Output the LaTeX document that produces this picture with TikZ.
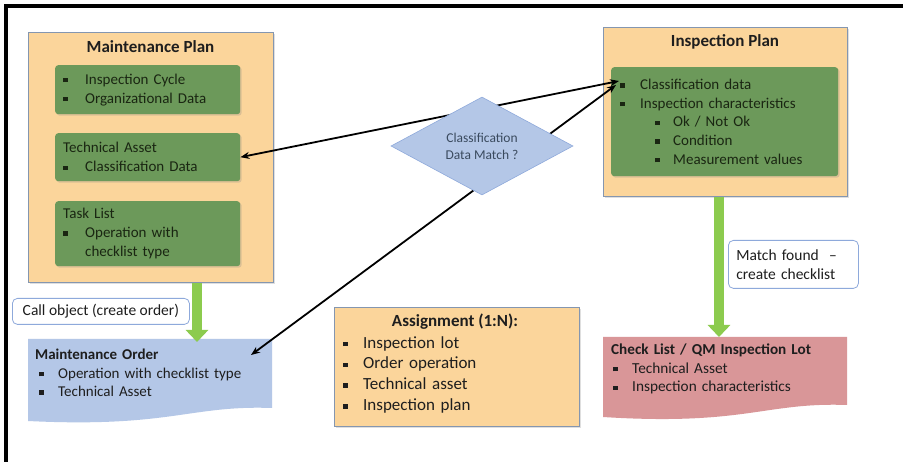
\documentclass[tikz,border=0pt]{standalone}
\usepackage{fontspec}
\setmainfont{Carlito}
\usetikzlibrary{arrows.meta,shapes.geometric,shadows,calc}
\definecolor{orfill}{HTML}{FBD59B}
\definecolor{orbord}{HTML}{8496B0}
\definecolor{gfill}{HTML}{6C995A}
\definecolor{gtext}{HTML}{1A2612}
\definecolor{bfill}{HTML}{B4C7E7}
\definecolor{bbord}{HTML}{8EA9DB}
\definecolor{pfill}{HTML}{D99698}
\definecolor{arrg}{HTML}{8CCB4E}
\definecolor{dtext}{HTML}{3A4A5E}
\definecolor{txt}{HTML}{1E1E1E}
\newcommand\bq{\rule[1.9pt]{4.4pt}{4.4pt}}
\newcommand\bitem[2][22pt]{\makebox[#1][l]{\bq}#2}
\tikzset{
  shd/.style={drop shadow={opacity=0.25,shadow xshift=1.5pt,shadow yshift=-1.5pt}},
  obox/.style={draw=orbord, fill=orfill, line width=0.8pt, shd, anchor=north west, inner sep=0pt},
  gbox/.style={fill=gfill, rounded corners=3pt, shd, anchor=north west, inner xsep=8pt,
    align=left, text=gtext, font=\fontsize{15}{19}\selectfont},
  ttl/.style={font=\fontsize{17}{20}\selectfont\bfseries, text=txt},
  callout/.style={draw=bbord, fill=white, rounded corners=5pt, line width=0.8pt, anchor=north west,
    text=txt, font=\fontsize{15.5}{19}\selectfont},
  plain/.style={anchor=north west, inner sep=0pt, align=left, text=txt},
  link/.style={draw=black, line width=1.8pt, {Stealth[length=9pt,width=7pt]}-{Stealth[length=9pt,width=7pt]}},
  fat/.style={draw=arrg, line width=10pt, -{Triangle[length=12pt,width=22pt]}},
}
\begin{document}
\begin{tikzpicture}[x=1pt,y=-1pt]
\useasboundingbox (0,0) rectangle (903,462);
\fill[white] (0,0) rectangle (903,462);
% frame
\draw[line width=3.5pt] (6,462) -- (6,6) -- (903,6);

% Maintenance plan
\node[obox, minimum width=245pt, minimum height=250pt] (MP) at (28,32) {};
\node[ttl] (MPt) at (150.5,47) {Maintenance Plan};
\node[gbox, minimum width=185pt, minimum height=49pt, text width=169pt] (g1) at (55,65)
  {\bitem{Inspection Cycle}\\\bitem{Organizational Data}};
\node[gbox, minimum width=185pt, minimum height=48pt, text width=169pt] (g2) at (55,133)
  {Technical Asset\\\bitem{Classification Data}};
\node[gbox, minimum width=185pt, minimum height=65pt, text width=169pt] (g3) at (55,201)
  {Task List\\\bitem{Operation with}\\\hspace*{22pt}checklist type};

% Inspection plan
\node[obox, minimum width=244pt, minimum height=169pt] (IP) at (603,27) {};
\node[ttl] (IPt) at (725,42) {Inspection Plan};
\node[gbox, inner xsep=9pt, minimum width=227pt, minimum height=109pt, text width=209pt,
  font=\fontsize{15}{18.7}\selectfont] (g4) at (611,67)
  {\bitem[20pt]{Classification data}\\
   \bitem[20pt]{Inspection characteristics}\\
   \hspace*{35pt}\bitem[18pt]{Ok / Not Ok}\\
   \hspace*{35pt}\bitem[18pt]{Condition}\\
   \hspace*{35pt}\bitem[18pt]{Measurement values}};
\coordinate (cdA) at (619,81);
\coordinate (cdB) at (616,85);

% Maintenance order (document shape)
\fill[bfill] (28,339) -- (272,339) -- (272,408) .. controls (190,405) and (170,428) .. (28,421) -- cycle;
\node[plain, font=\fontsize{15}{18.5}\selectfont, text width=235pt] (MO) at (35,349)
  {\textbf{Maintenance Order}\\
   \hspace*{4pt}\bitem[19pt]{Operation with checklist type}\\
   \hspace*{4pt}\bitem[19pt]{Technical Asset}};
\coordinate (moT) at (251,355);

% Check list (document shape)
\fill[pfill] (603,337) -- (847,337) -- (847,405) .. controls (765,402) and (745,426) .. (603,417) -- cycle;
\node[plain, font=\fontsize{15.3}{18.5}\selectfont, text width=235pt] (CL) at (611,344)
  {{\fontsize{15.2}{18.5}\selectfont\bfseries Check List / QM Inspection Lot}\\
   \hspace*{2pt}\bitem[19pt]{Technical Asset}\\
   \hspace*{2pt}\bitem[19pt]{Inspection characteristics}};

% Assignment
\node[obox, minimum width=245pt, minimum height=119pt] (AS) at (334,307) {};
\node[ttl] (ASt) at (455,322) {Assignment (1:N):};
\node[plain, font=\fontsize{17}{20.8}\selectfont, text width=225pt] (ASl) at (343,336)
  {\bitem[20pt]{Inspection lot}\\\bitem[20pt]{Order operation}\\\bitem[20pt]{Technical asset}\\\bitem[20pt]{Inspection plan}};

% callouts
\node[callout, minimum width=177pt, minimum height=26pt] (CO) at (12,298) {Call object (create order)};
\node[callout, minimum width=130pt, minimum height=48pt, align=left, text width=114pt, inner xsep=8pt] (MF) at (728,240)
  {Match found\ \ --\\create checklist};

% green arrows
\coordinate (x1) at (197,0);
\coordinate (x2) at (719,0);
\draw[fat] (MP.south -| x1) -- ($(MO.north -| x1)+(0,-7)$);
\draw[fat] (IP.south -| x2) -- ($(CL.north -| x2)+(0,-7)$);

% links (behind diamond)
\draw[link] (g2.east) -- (cdA);
\draw[link] (moT) -- (cdB);

% diamond
\node[diamond, fill=bfill, draw=bbord, line width=0.6pt, aspect=1.86, inner sep=0pt,
  minimum width=182pt, minimum height=98pt, align=center, text=dtext,
  font=\fontsize{13.5}{17}\selectfont] (DM) at (482,146) {Classification\\Data Match ?};
\end{tikzpicture}
\end{document}
